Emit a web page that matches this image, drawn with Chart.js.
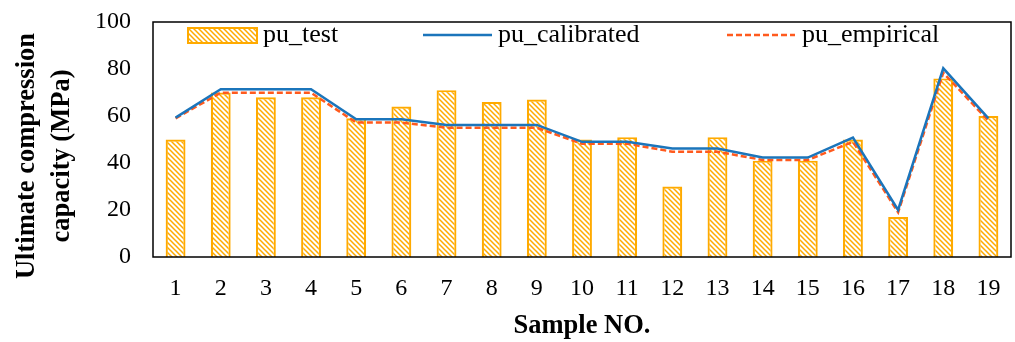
<!DOCTYPE html>
<html>
<head>
<meta charset="utf-8">
<script src="https://cdn.jsdelivr.net/npm/chart.js@4.4.0/dist/chart.umd.min.js"></script>
<style>
  html, body { margin: 0; padding: 0; background: #fff; }
  #wrap { width: 1015px; height: 342px; }
</style>
</head>
<body>
<div id="wrap"><canvas id="c" width="1015" height="342"></canvas></div>
<script>
// data
const samples = ['1','2','3','4','5','6','7','8','9','10','11','12','13','14','15','16','17','18','19'];
const puTest = [50, 70, 68, 68, 59, 64, 71, 66, 67, 50, 51, 30, 51, 41, 41, 50, 17, 76, 60];
const puCalibrated = [59.3, 71.4, 71.4, 71.4, 58.6, 58.6, 56.2, 56.2, 56.2, 49, 49, 46.2, 46.2, 42.3, 42.3, 50.8, 20, 80.3, 59];
const puEmpirical = [59, 69.9, 69.9, 69.9, 57.2, 57.2, 55, 55, 55, 48.2, 48.2, 44.8, 44.8, 41.3, 41.3, 49, 19, 78.4, 58];
const yTicks = [0, 20, 40, 60, 80, 100];
const yTitle = ['Ultimate compression', 'capacity (MPa)'];

const serif = '"Liberation Serif", "Times New Roman", serif';
const barColor = '#FFAA00';
const calColor = '#1B75BB';
const empColor = '#FF5A1E';

const ctx = document.getElementById('c').getContext('2d');

// diagonal hatch fill like the Excel pattern
function hatch(color) {
  const n = 5;
  const c = document.createElement('canvas');
  c.width = n; c.height = n;
  const g = c.getContext('2d');
  g.fillStyle = '#fff';
  g.fillRect(0, 0, n, n);
  g.strokeStyle = color;
  g.lineWidth = 1.5;
  g.beginPath();
  g.moveTo(-1, -1); g.lineTo(n + 1, n + 1);
  g.moveTo(n - 1, -1); g.lineTo(n + 1, 1);
  g.moveTo(-1, n - 1); g.lineTo(1, n + 1);
  g.stroke();
  return ctx.createPattern(c, 'repeat');
}
const barFill = hatch(barColor);

// frame, y title (sits a bit below plot centre, as in Excel) and legend inside the plot
const framePlugin = {
  id: 'frame',
  afterDraw(chart) {
    const a = chart.chartArea;
    const g = chart.ctx;
    g.save();
    g.strokeStyle = '#000';
    g.lineWidth = 1.5;
    g.strokeRect(a.left, a.top, a.right - a.left, a.bottom - a.top);

    // y axis title
    g.save();
    g.translate(0, 156);
    g.rotate(-Math.PI / 2);
    g.font = 'bold 26.5px ' + serif;
    g.fillStyle = '#000';
    g.textAlign = 'center';
    g.textBaseline = 'middle';
    g.fillText(yTitle[0], 0, 27);
    g.fillText(yTitle[1], 0, 62);
    g.restore();

    const ly = a.top + 13;
    g.font = '26px ' + serif;
    g.fillStyle = '#000';
    g.textBaseline = 'middle';

    // pu_test
    g.fillStyle = barFill;
    g.fillRect(a.left + 35, ly - 7, 69, 15);
    g.strokeStyle = barColor;
    g.lineWidth = 2;
    g.strokeRect(a.left + 35, ly - 7, 69, 15);
    g.fillStyle = '#000';
    g.fillText(chart.data.datasets[2].label, a.left + 110, ly);

    // pu_calibrated
    g.strokeStyle = calColor;
    g.lineWidth = 2.5;
    g.beginPath();
    g.moveTo(a.left + 270, ly); g.lineTo(a.left + 339, ly);
    g.stroke();
    g.fillText(chart.data.datasets[0].label, a.left + 345, ly);

    // pu_empirical
    g.strokeStyle = empColor;
    g.setLineDash([6, 3]);
    g.beginPath();
    g.moveTo(a.left + 574, ly); g.lineTo(a.left + 642, ly);
    g.stroke();
    g.setLineDash([]);
    g.fillText(chart.data.datasets[1].label, a.left + 649, ly);
    g.restore();
  }
};

new Chart(ctx, {
  type: 'bar',
  data: {
    labels: samples,
    datasets: [
      {
        type: 'line',
        label: 'pu_calibrated',
        data: puCalibrated,
        borderColor: calColor,
        borderWidth: 2.5,
        pointRadius: 0,
        tension: 0,
        order: 1
      },
      {
        type: 'line',
        label: 'pu_empirical',
        data: puEmpirical,
        borderColor: empColor,
        borderWidth: 2.5,
        borderDash: [6, 3],
        pointRadius: 0,
        tension: 0,
        order: 2
      },
      {
        type: 'bar',
        label: 'pu_test',
        data: puTest,
        backgroundColor: barFill,
        borderColor: barColor,
        borderWidth: 2.2,
        barPercentage: 0.44,
        categoryPercentage: 1,
        order: 3
      }
    ]
  },
  options: {
    responsive: false,
    animation: false,
    layout: { padding: { top: 22, right: 4, left: 0, bottom: 0 } },
    plugins: {
      legend: { display: false },
      tooltip: { enabled: false }
    },
    scales: {
      x: {
        offset: true,
        grid: { display: false, drawTicks: false },
        border: { display: false },
        ticks: { color: '#000', font: { family: serif, size: 24 }, padding: 17, maxRotation: 0 },
        title: {
          display: true,
          text: 'Sample NO.',
          color: '#000',
          font: { family: serif, size: 26.5, weight: 'bold' },
          padding: { top: 7, bottom: 0 }
        },
        afterFit(scale) {
          scale.height = 85;
          scale.paddingLeft = 0;
          scale.paddingRight = 0;
        }
      },
      y: {
        min: 0,
        max: 100,
        grid: { display: false, drawTicks: false },
        border: { display: false },
        afterBuildTicks(scale) { scale.ticks = yTicks.map(v => ({ value: v })); },
        ticks: { color: '#000', font: { family: serif, size: 24 }, padding: 22 },
        afterFit(scale) {
          scale.width = 153;
          scale.paddingTop = 0;
          scale.paddingBottom = 0;
        }
      }
    }
  },
  plugins: [framePlugin]
});
</script>
</body>
</html>
